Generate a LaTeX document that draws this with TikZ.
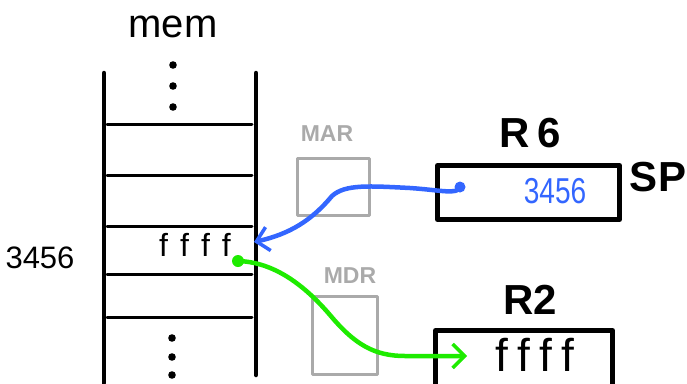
\documentclass[tikz,border=0pt]{standalone}
\usepackage{fontspec}
\usepackage{graphicx}
\setmainfont{Liberation Sans}
\usetikzlibrary{arrows.meta}
\definecolor{penblue}{RGB}{51,102,255}
\definecolor{pengreen}{RGB}{30,235,0}
\definecolor{pengray}{RGB}{170,170,170}
\newcommand{\fsz}[1]{\fontsize{#1}{#1}\selectfont}
\begin{document}
\begin{tikzpicture}[x=1pt,y=-1pt, line cap=round, line join=round,
 memline/.style={line width=4.5pt},
 cellline/.style={line width=3pt},
 regbox/.style={draw, line width=5pt, inner sep=0pt},
 busbox/.style={draw=pengray, line width=3pt, inner sep=0pt},
 hand/.style={inner sep=0pt, anchor=center},
 wire/.style={line width=4.5pt, -{Straight Barb[length=12pt,width=24pt,line width=3.5pt]}}
]
\useasboundingbox (0,0) rectangle (687,383);
% memory column
\draw[memline] (104,73) -- (104,383);
\draw[memline] (256,73) -- (256,375);
\foreach \y in {124,175,226,274,317} \draw[cellline] (107,\y) -- (252,\y);
\foreach \y in {65,86,107} \fill (173,\y) circle (3.8pt);
\foreach \y in {338,357,375} \fill (172,\y) circle (3.8pt);
\node[hand, font=\fsz{40}] (memlabel) at (173,27) {mem};
\node[hand, font=\fsz{31}] (addr) at (40,258) {3456};
\node[hand, font=\fsz{32}] (cell) at (195,245) {f\hspace{12pt}f\hspace{12pt}f\hspace{12pt}f};
\coordinate (memin) at (254,242);
\coordinate (memout) at (238,261);
% bus registers
\node[busbox, minimum width=72pt, minimum height=57pt] (mar) at (333.5,187) {};
\node[hand, font=\bfseries\fsz{23}, text=pengray] (marlabel) at (327,134) {MAR};
\node[busbox, minimum width=65pt, minimum height=78pt] (mdr) at (345,335.5) {};
\node[hand, font=\bfseries\fsz{23}, text=pengray] (mdrlabel) at (350,276) {MDR};
% R6
\node[regbox, minimum width=182pt, minimum height=54pt] (r6) at (528.5,192.5) {};
\node[hand, font=\bfseries\fsz{42}] (r6label) at (530,133) {R\hspace{8pt}6};
\node[hand, font=\bfseries\fsz{42}] (sp) at (658,177) {SP};
\node[hand, font=\fsz{36}, text=penblue] (r6val) at (555,191) {\scalebox{0.78}[1]{3456}};
\coordinate (bluedot) at (460,187);
% R2
\node[regbox, minimum width=177pt, minimum height=80pt] (r2) at (524,370.5) {};
\node[hand, font=\bfseries\fsz{42}] (r2label) at (530,300) {R2};
\node[hand, font=\fsz{46}] (r2val) at (535,355) {f\hspace{9pt}f\hspace{9pt}f\hspace{9pt}f};
\coordinate (greentip) at (467,356);
% connectors
\fill[penblue] (bluedot) circle (5.5pt);
\draw[wire, penblue] (bluedot) .. controls (458,195) and (440,190) .. (410,188)
  .. controls (370,186) and (345,184) .. (332,196)
  .. controls (312,220) and (290,234) .. (memin);
\fill[pengreen] (memout) circle (6pt);
\draw[wire, pengreen] (memout) .. controls (270,262) and (300,280) .. (330,315)
  .. controls (355,345) and (375,356) .. (405,356) -- (greentip);
\end{tikzpicture}
\end{document}
